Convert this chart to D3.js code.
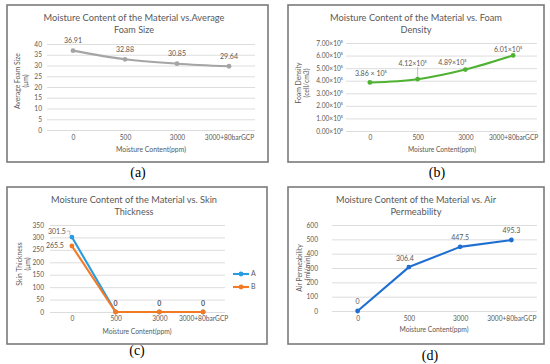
<!DOCTYPE html>
<html><head><meta charset="utf-8">
<script src="https://cdn.jsdelivr.net/npm/d3@7"></script>
<style>
html,body{margin:0;padding:0;background:#fff;}
svg{display:block;}
text{font-family:Lato,"Open Sans",sans-serif;fill:#595959;}
</style></head>
<body>
<svg id="c" width="550" height="364"></svg>
<script>
// ---------- data ----------
const categories = ["0", "500", "3000", "3000+80barGCP"];
const foamSize = [36.91, 32.88, 30.85, 29.64];          // µm
const foamDensity = [3.86, 4.12, 4.89, 6.01];           // ×10^5 cell/cm3
const skinA = [301.5, 0, 0, 0];                         // µm
const skinB = [265.5, 0, 0, 0];                         // µm
const airPerm = [0, 306.4, 447.5, 495.3];               // ml/min
const sizeTicks = [0, 5, 10, 15, 20, 25, 30, 35, 40];
const densityTicks = [0, 1, 2, 3, 4, 5, 6, 7];
const densityTickLabels = ["0.00×10⁰", "1.00×10⁵", "2.00×10⁵", "3.00×10⁵", "4.00×10⁵", "5.00×10⁵", "6.00×10⁵", "7.00×10⁵"];
const densityLabels = ["3.86 × 10⁵", "4.12×10⁵", "4.89×10⁵", "6.01×10⁵"];
const skinTicks = [0, 50, 100, 150, 200, 250, 300, 350];
const permTicks = [0, 100, 200, 300, 400, 500, 600];
const seriesNames = ["A", "B"];

// ---------- drawing ----------
const svg = d3.select("#c");

function fit(sel, w) {
  sel.each(function () {
    const L = this.getComputedTextLength();
    if (L > 0 && Math.abs(L - w) / w > 0.03) {
      this.setAttribute("textLength", w);
      this.setAttribute("lengthAdjust", "spacingAndGlyphs");
    }
  });
}

function panel(cfg) {
  const g = svg.append("g");
  g.append("rect").attr("x", cfg.box[0]).attr("y", cfg.box[1])
    .attr("width", cfg.box[2] - cfg.box[0]).attr("height", cfg.box[3] - cfg.box[1])
    .attr("fill", "#fff").attr("stroke", "#7a7a7a").attr("stroke-width", 1.6);

  const x = d3.scalePoint().domain(categories).range(cfg.xr).padding(0.5);
  const y = d3.scaleLinear().domain([0, cfg.ticks[cfg.ticks.length - 1]]).range([cfg.y0, cfg.y1]);

  // y axis with gridlines
  const ya = g.append("g").attr("transform", `translate(${cfg.xr[0]},0)`)
    .call(d3.axisLeft(y).tickValues(cfg.ticks).tickSize(-(cfg.xr[1] - cfg.xr[0]))
      .tickPadding(cfg.tickPad).tickFormat(cfg.tickFormat || (d => d)));
  ya.select(".domain").remove();
  ya.selectAll("line").attr("stroke", "#d9d9d9").attr("stroke-width", 0.9);
  ya.selectAll("text").attr("font-size", 6.6).attr("fill", "#595959").attr("font-family", "Lato,sans-serif");

  // x axis labels
  const xa = g.append("g").attr("transform", `translate(0,${cfg.xLabY})`)
    .call(d3.axisBottom(x).tickSize(0).tickPadding(0));
  xa.select(".domain").remove();
  xa.selectAll("text").attr("dy", "0.35em").attr("font-size", 6.6).attr("fill", "#595959").attr("font-family", "Lato,sans-serif");

  // titles
  cfg.title.forEach((t, i) => {
    g.append("text").attr("x", cfg.titleX).attr("y", cfg.titleY[i]).attr("dy", "0.35em")
      .attr("text-anchor", "middle").attr("font-size", 10).text(t).call(fit, cfg.titleW[i]);
  });
  g.append("text").attr("x", cfg.xTitle[0]).attr("y", cfg.xTitle[1]).attr("dy", "0.35em")
    .attr("text-anchor", "middle").attr("font-size", 7.5).text("Moisture Content(ppm)").call(fit, cfg.xTitle[2]);
  cfg.yTitle.forEach((t, i) => {
    g.append("text").attr("transform", `translate(${cfg.yTitleX[i]},${cfg.yTitleY}) rotate(-90)`)
      .attr("dy", "0.35em").attr("text-anchor", "middle").attr("font-size", 6.8).text(t);
  });

  // series
  cfg.series.forEach(s => {
    const line = d3.line().x((d, i) => x(categories[i])).y(d => y(d)).curve(s.curve || d3.curveLinear);
    g.append("path").datum(s.values).attr("d", line).attr("fill", "none")
      .attr("stroke", s.color).attr("stroke-width", 2.1).attr("stroke-linejoin", "round");
    g.selectAll(null).data(s.values).enter().append("circle")
      .attr("cx", (d, i) => x(categories[i])).attr("cy", d => y(d)).attr("r", 2.4).attr("fill", s.color);
    if (s.labels) {
      s.values.forEach((v, i) => {
        const lb = s.labels[i];
        if (!lb) return;
        const px = x(categories[i]), py = y(v);
        if (lb.leader) {
          g.append("path").attr("d", lb.leader(px, py)).attr("fill", "none")
            .attr("stroke", "#a6a6a6").attr("stroke-width", 0.7);
        }
        g.append("text").attr("x", px + lb.dx).attr("y", py + lb.dy).attr("dy", "0.35em")
          .attr("text-anchor", lb.anchor || "middle").attr("font-size", lb.size || 7)
          .attr("font-weight", lb.bold ? "bold" : "normal")
          .attr("fill", "#404040")
          .text(lb.text);
      });
    }
  });

  if (cfg.legend) {
    cfg.legend.forEach((l, i) => {
      const ly = cfg.legendY[i];
      g.append("line").attr("x1", cfg.legendX).attr("x2", cfg.legendX + 16).attr("y1", ly).attr("y2", ly)
        .attr("stroke", l.color).attr("stroke-width", 2.1);
      g.append("circle").attr("cx", cfg.legendX + 8).attr("cy", ly).attr("r", 2.4).attr("fill", l.color);
      g.append("text").attr("x", cfg.legendX + 18).attr("y", ly).attr("dy", "0.35em")
        .attr("font-size", 7).text(l.name);
    });
  }

  svg.append("text").attr("x", cfg.tag[0]).attr("y", cfg.tag[1]).attr("dy", "0.35em")
    .attr("text-anchor", "middle").attr("font-size", 14)
    .style("font-family", "'Liberation Serif','DejaVu Serif',serif").style("fill", "#000")
    .text(cfg.tag[2]);
}

// (a)
panel({
  box: [7, 5, 268, 162], xr: [47, 255], y0: 130, y1: 44, ticks: sizeTicks, tickPad: 5,
  xLabY: 138, title: ["Moisture Content of the Material vs.Average", "Foam Size"],
  titleX: 134, titleY: [17, 29], titleW: [181, 40],
  xTitle: [151, 149, 70], yTitle: ["Average Foam Size", "(μm)"], yTitleX: [18, 26], yTitleY: 81,
  series: [{
    values: foamSize, color: "#a5a5a5", curve: d3.curveMonotoneX,
    labels: foamSize.map(v => ({ text: v.toFixed(2), dx: 0, dy: -10 }))
  }],
  tag: [138, 172, "(a)"]
});

// (b)
panel({
  box: [288, 5, 544, 162], xr: [346, 537], y0: 131, y1: 43, ticks: densityTicks, tickPad: 3,
  tickFormat: (d, i) => densityTickLabels[densityTicks.indexOf(d)],
  xLabY: 138, title: ["Moisture Content of the Material vs. Foam", "Density"],
  titleX: 416, titleY: [17, 29], titleW: [172, 31],
  xTitle: [442, 149, 68], yTitle: ["Foam Density", "(cell/cm3)"], yTitleX: [299, 307], yTitleY: 83,
  series: [{
    values: foamDensity, color: "#4fb233", curve: d3.curveMonotoneX,
    labels: [
      { text: densityLabels[0], dx: 1, dy: -9 },
      { text: densityLabels[1], dx: -5, dy: -16, leader: (px, py) => `M${px},${py - 2}V${py - 12}` },
      { text: densityLabels[2], dx: -13, dy: -7 },
      { text: densityLabels[3], dx: -5, dy: -6 }
    ]
  }],
  tag: [437, 172, "(b)"]
});

// (c)
panel({
  box: [7, 187, 267, 344], xr: [50, 225], y0: 312, y1: 225, ticks: skinTicks, tickPad: 6,
  xLabY: 319, title: ["Moisture Content of the Material vs. Skin", "Thickness"],
  titleX: 134, titleY: [199, 211], titleW: [166, 39],
  xTitle: [137, 331, 69], yTitle: ["Skin Thickness", "(μm)"], yTitleX: [20, 28], yTitleY: 264,
  series: [
    { values: skinA, color: "#2a9be0",
      labels: [{ text: "301.5", dx: -6, dy: -6, anchor: "end",
                 leader: (px, py) => `M${px - 5},${py - 6}H${px - 2}V${py - 2}` }, null, null, null] },
    { values: skinB, color: "#f27a25",
      labels: [{ text: "265.5", dx: -8, dy: 0, anchor: "end" },
               { text: "0", dx: 0, dy: -8, bold: true },
               { text: "0", dx: 0, dy: -8, bold: true },
               { text: "0", dx: 0, dy: -8, bold: true }] }
  ],
  legend: [{ name: seriesNames[0], color: "#2a9be0" }, { name: seriesNames[1], color: "#f27a25" }],
  legendX: 233, legendY: [274, 287],
  tag: [137, 350, "(c)"]
});

// (d)
panel({
  box: [288, 187, 544, 344], xr: [332, 537], y0: 311, y1: 225, ticks: permTicks, tickPad: 14,
  xLabY: 319, title: ["Moisture Content of the Material vs. Air", "Permeability"],
  titleX: 416, titleY: [199, 211], titleW: [160, 51],
  xTitle: [434, 329, 69], yTitle: ["Air Permeability", "(ml/min)"], yTitleX: [300, 308], yTitleY: 268,
  series: [{
    values: airPerm, color: "#1f6fd0",
    labels: [
      { text: "0", dx: 0, dy: -9 },
      { text: "306.4", dx: -4, dy: -9 },
      { text: "447.5", dx: 0, dy: -9 },
      { text: "495.3", dx: 0, dy: -9 }
    ]
  }],
  tag: [430, 355, "(d)"]
});
</script>
</body></html>
